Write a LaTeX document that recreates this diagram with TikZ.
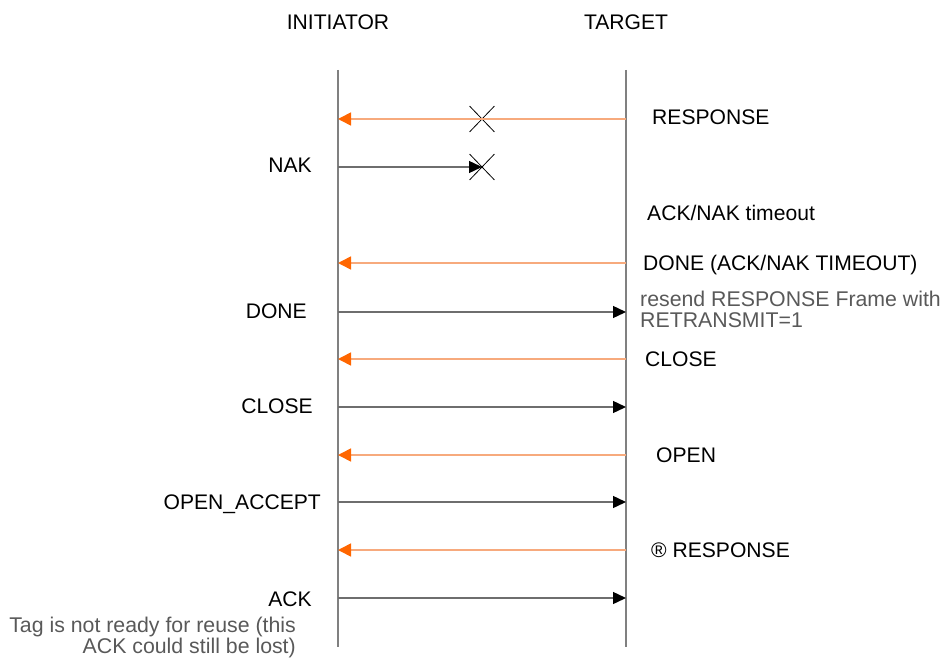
\documentclass[tikz,border=0pt]{standalone}
\usepackage{fontspec}
\setmainfont{Liberation Sans}
\usetikzlibrary{arrows.meta, positioning, shapes.misc}

\definecolor{lifegray}{RGB}{128,128,128}
\definecolor{linegray}{RGB}{110,110,110}
\definecolor{msgorange}{RGB}{247,170,125}
\definecolor{tiporange}{RGB}{255,102,0}
\definecolor{notegray}{RGB}{89,89,89}

\begin{document}
\begin{tikzpicture}[x=1pt,y=-1pt,
    every node/.style={font=\fontsize{21.1}{22}\selectfont,inner sep=0pt},
    lifeline/.style={draw=lifegray,line width=1.8pt},
    totarget/.style={draw=linegray,line width=1.4pt,-{Triangle[length=13pt,width=12pt,color=black]}},
    toinit/.style={draw=msgorange,line width=1.6pt,-{Triangle[length=13pt,width=13pt,color=tiporange]}},
    lostmsg/.style={cross out,draw=black,line width=0.8pt,minimum width=24pt,minimum height=25pt},
    leftlabel/.style={anchor=base east},
    rightlabel/.style={anchor=base west},
    remark/.style={text=notegray,font=\fontsize{21.3}{22}\selectfont}]

    \useasboundingbox (0,0) rectangle (948,671);

    % headers and lifelines
    \node (initiator) at (338,22) {INITIATOR};
    \node (target) at (626,22) {TARGET};
    \coordinate (itop) at (338,70);
    \coordinate (ibot) at (338,647);
    \coordinate (ttop) at (626,70);
    \coordinate (tbot) at (626,647);
    \draw[lifeline] (itop) -- (ibot);
    \draw[lifeline] (ttop) -- (tbot);

    % end points on the lifelines
    \coordinate (iresp) at (338,119);  \coordinate (tresp) at (626,119);
    \coordinate (inak) at (338,167);
    \coordinate (itdone) at (338,263); \coordinate (ttdone) at (626,263);
    \coordinate (idone) at (338,312);  \coordinate (tdone) at (626,312);
    \coordinate (itclose) at (338,359);\coordinate (ttclose) at (626,359);
    \coordinate (iclose) at (338,407); \coordinate (tclose) at (626,407);
    \coordinate (iopen) at (338,455);  \coordinate (topen) at (626,455);
    \coordinate (iaccept) at (338,502);\coordinate (taccept) at (626,502);
    \coordinate (iresp2) at (338,550); \coordinate (tresp2) at (626,550);
    \coordinate (iack) at (338,598);   \coordinate (tack) at (626,598);

    % lost frames
    \node[lostmsg] (lostresp) at (482,119) {};
    \node[lostmsg] (lostnak) at (482,167) {};

    % messages
    \draw[toinit] (tresp) -- (iresp);
    \draw[totarget] (inak) -- (lostnak.center);
    \draw[toinit] (ttdone) -- (itdone);
    \draw[totarget] (idone) -- (tdone);
    \draw[toinit] (ttclose) -- (itclose);
    \draw[totarget] (iclose) -- (tclose);
    \draw[toinit] (topen) -- (iopen);
    \draw[totarget] (iaccept) -- (taccept);
    \draw[toinit] (tresp2) -- (iresp2);
    \draw[totarget] (iack) -- (tack);

    % target side labels
    \node[rightlabel] (lresp) at (652,125) {RESPONSE};
    \node[rightlabel] (ltimeout) at (647,221) {ACK/NAK timeout};
    \node[rightlabel] (ltdone) at (643,271) {DONE (ACK/NAK TIMEOUT)};
    \node[rightlabel,remark] (lresend) at (640,306) {resend RESPONSE Frame with};
    \node[rightlabel,remark] (lretx) at (640,327) {RETRANSMIT=1};
    \node[rightlabel] (ltclose) at (645,366) {CLOSE};
    \node[rightlabel] (lopen) at (656,462) {OPEN};
    \node[rightlabel] (lresp2) at (651,557) {® RESPONSE};

    % initiator side labels
    \node[leftlabel] (lnak) at (312,173) {NAK};
    \node[leftlabel] (ldone) at (307,318) {DONE};
    \node[leftlabel] (lclose) at (313,413) {CLOSE};
    \node[leftlabel] (laccept) at (321,509) {OPEN\_ACCEPT};
    \node[leftlabel] (lack) at (312,606) {ACK};
    \node[leftlabel,remark] (lreuse) at (296,632) {Tag is not ready for reuse (this};
    \node[leftlabel,remark] (llost) at (296,653) {ACK could still be lost)};
\end{tikzpicture}
\end{document}
